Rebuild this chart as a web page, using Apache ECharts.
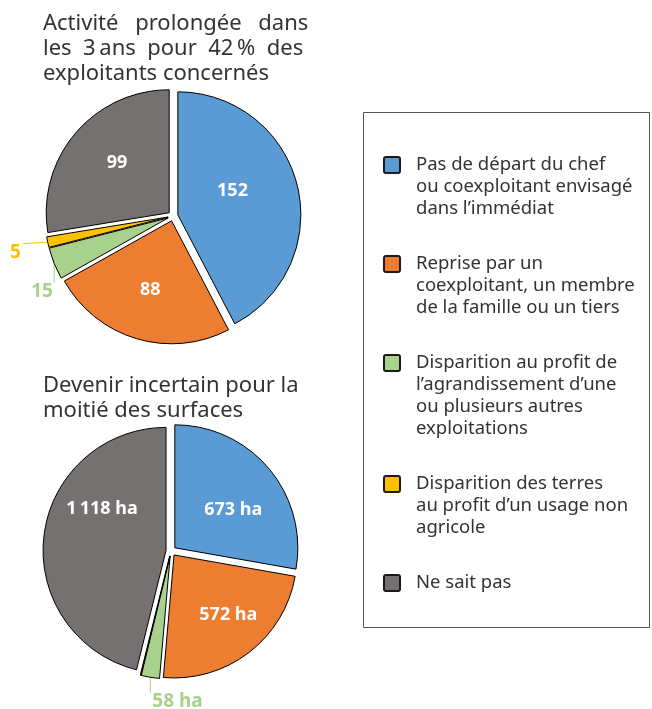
<!DOCTYPE html>
<html>
<head>
<meta charset="utf-8">
<script src="https://cdn.jsdelivr.net/npm/echarts@6/dist/echarts.min.js"></script>
<style>
  html, body { margin: 0; padding: 0; background: #fff; }
  #chart { width: 652px; height: 709px; }
</style>
</head>
<body>
<div id="chart"></div>
<script>
// catégories (ordre des secteurs, sens horaire depuis midi)
const categories = [
  'Pas de départ du chef ou coexploitant envisagé dans l’immédiat',
  'Reprise par un coexploitant, un membre de la famille ou un tiers',
  'Disparition au profit de l’agrandissement d’une ou plusieurs autres exploitations',
  'Disparition des terres au profit d’un usage non agricole',
  'Ne sait pas'
];
const legendLines = [
  ['Pas de départ du chef', 'ou coexploitant envisagé', 'dans l’immédiat'],
  ['Reprise par un', 'coexploitant, un membre', 'de la famille ou un tiers'],
  ['Disparition au profit de', 'l’agrandissement d’une', 'ou plusieurs autres', 'exploitations'],
  ['Disparition des terres', 'au profit d’un usage non', 'agricole'],
  ['Ne sait pas']
];
const colors = ['#5b9bd5', '#ed7d31', '#a9d18e', '#ffc000', '#767171'];

// nombre d'exploitants
const exploitants = [152, 88, 15, 5, 99];
// surfaces en ha
const surfaces = [673, 572, 58, 2, 1118];

const titles = [
  'Activité \u2002prolongée \u2002dans\nles  3\u202fans  pour  42\u202f%  des\nexploitants concernés',
  'Devenir incertain pour la\nmoitié des surfaces'
];

const FONT = '"Noto Sans", sans-serif';
const R = 123;

// petits décalages d'étiquettes (placement manuel comme dans l'original)
const nudges1 = { 0: [-8, -9], 1: [-3, 7], 2: [17, 24], 3: [-8, 8], 4: [-3, -8] };
const nudges2 = { 0: [9, 4], 1: [15, 9], 2: [63, 14], 4: [0, -34] };

function fmtHa(v) {
  return String(v).replace(/\B(?=(\d{3})+(?!\d))/g, '\u202f') + ' ha';
}

function pieSeries(values, center, fmt, outsideIdx, hiddenIdx, nudges) {
  return {
    type: 'pie',
    center: center,
    radius: R,
    startAngle: 90,
    clockwise: true,
    selectedMode: 'multiple',
    selectedOffset: 5,
    avoidLabelOverlap: false,
    animation: false,
    emphasis: { disabled: true },
    itemStyle: { borderColor: '#000', borderWidth: 1 },
    select: { itemStyle: { borderColor: '#000', borderWidth: 1 } },
    label: {
      position: 'inside',
      color: '#fff',
      fontFamily: FONT,
      fontSize: 18,
      fontWeight: 'bold',
      formatter: p => fmt(p.value)
    },
    data: values.map((v, i) => {
      const d = {
        value: v,
        name: categories[i],
        selected: true,
        itemStyle: { color: colors[i] }
      };
      if (outsideIdx.includes(i)) {
        d.label = { position: 'outside', color: colors[i], fontSize: 19 };
        d.labelLine = { show: true, length: 10, length2: 4, lineStyle: { color: colors[i], width: 1 } };
      }
      if (hiddenIdx.includes(i)) {
        d.label = { show: false };
        d.labelLine = { show: false };
      }
      return d;
    }),
    labelLayout: function (params) {
      const n = nudges[params.dataIndex];
      if (!n) return {};
      const out = { dx: n[0], dy: n[1] };
      const pts = params.labelLinePoints;
      if (pts && outsideIdx.includes(params.dataIndex)) {
        // relier le trait au nouvel emplacement de l'étiquette
        const r = params.labelRect;
        const x0 = r.x + n[0], y0 = r.y + n[1];
        const p0 = pts[0];
        const ex = Math.min(Math.max(p0[0], x0 - 2), x0 + r.width + 2);
        const ey = Math.min(Math.max(p0[1], y0 + 1), y0 + r.height);
        out.labelLinePoints = [p0, [(p0[0] + ex) / 2, (p0[1] + ey) / 2], [ex, ey]];
      }
      return out;
    }
  };
}

const legendGraphics = [];
let y = 165;
legendLines.forEach((lines, i) => {
  legendGraphics.push({
    type: 'rect',
    shape: { x: 384, y: y - 8, width: 16, height: 16, r: 2 },
    style: { fill: colors[i], stroke: '#1a1a1a', lineWidth: 2 }
  });
  legendGraphics.push({
    type: 'text',
    x: 416, y: y - 11,
    style: {
      text: lines.join('\n'),
      fill: '#333',
      font: '18.5px ' + FONT,
      lineHeight: 22,
      verticalAlign: 'top'
    }
  });
  y += lines.length * 22 + 33;
});

const titleStyle = { fontFamily: FONT, fontSize: 22, fontWeight: 'normal', color: '#333', lineHeight: 25 };

const chart = echarts.init(document.getElementById('chart'), null, { renderer: 'canvas' });
chart.setOption({
  animation: false,
  title: [
    { text: titles[0], left: 38, top: 6, textStyle: titleStyle },
    { text: titles[1], left: 38, top: 368, textStyle: titleStyle }
  ],
  graphic: [
    {
      type: 'rect',
      shape: { x: 363.5, y: 112.5, width: 286, height: 515 },
      style: { fill: 'none', stroke: '#555', lineWidth: 1 }
    }
  ].concat(legendGraphics),
  series: [
    pieSeries(exploitants, [173, 216], v => String(v), [2, 3], [], nudges1),
    pieSeries(surfaces, [171, 551], fmtHa, [2], [3], nudges2)
  ]
});
</script>
</body>
</html>
